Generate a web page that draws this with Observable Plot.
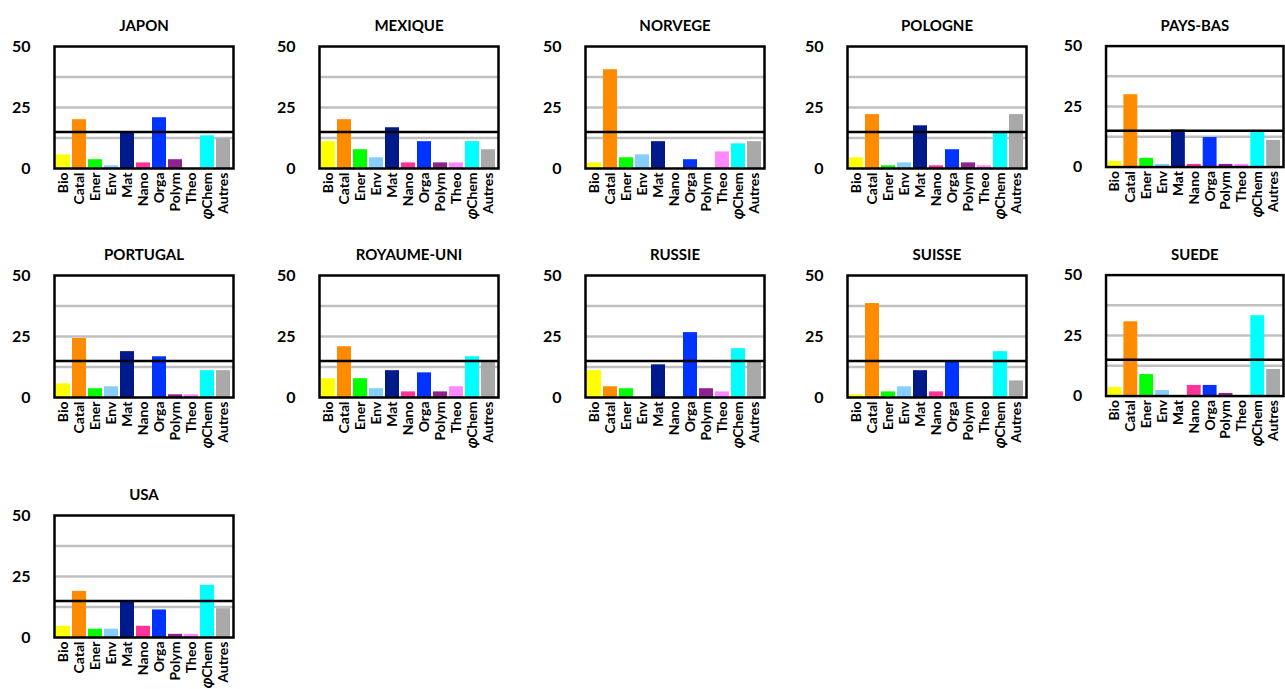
<!DOCTYPE html>
<html>
<head>
<meta charset="utf-8">
<script src="https://cdn.jsdelivr.net/npm/d3@7"></script>
<script src="https://cdn.jsdelivr.net/npm/@observablehq/plot@0.6"></script>
<style>
  html, body { margin: 0; padding: 0; background: #fff; }
  #root { position: relative; width: 1285px; height: 689px; overflow: hidden; font-family: Lato, sans-serif; }
  .panel { position: absolute; }
</style>
</head>
<body>
<div id="root"></div>
<script>
const categories = ["Bio", "Catal", "Ener", "Env", "Mat", "Nano", "Orga", "Polym", "Theo", "\u{1D711}Chem", "Autres"];
const colors = ["#ffff00", "#ff8c00", "#00ff00", "#87cefa", "#001a8c", "#ff3399", "#0033ff", "#8e2390", "#ff88ff", "#00ffff", "#a9a9a9"];
const countries = ["JAPON", "MEXIQUE", "NORVEGE", "POLOGNE", "PAYS-BAS", "PORTUGAL", "ROYAUME-UNI", "RUSSIE", "SUISSE", "SUEDE", "USA"];

const japon      = [5.6, 20.0, 3.6, 1.1, 14.4, 2.3, 20.8, 3.6, 0, 13.4, 12.2];
const mexique    = [11.0, 20.0, 7.7, 4.4, 16.7, 2.3, 11.0, 2.3, 2.3, 11.0, 7.7];
const norvege    = [2.3, 40.5, 4.4, 5.6, 11.0, 0, 3.6, 0, 6.8, 10.1, 11.0];
const pologne    = [4.4, 22.1, 1.1, 2.3, 17.5, 1.1, 7.7, 2.3, 1.1, 14.6, 22.1];
const paysBas    = [2.3, 29.9, 3.6, 1.1, 15.3, 1.1, 12.2, 1.1, 1.1, 14.7, 11.0];
const portugal   = [5.6, 24.2, 3.6, 4.4, 18.8, 0, 16.7, 1.1, 1.1, 11.0, 11.0];
const royaumeUni = [7.7, 20.8, 7.7, 3.6, 11.0, 2.3, 10.1, 2.3, 4.4, 16.7, 15.0];
const russie     = [11.0, 4.4, 3.6, 0, 13.4, 0, 26.6, 3.6, 2.3, 20.0, 15.0];
const suisse     = [1.1, 38.5, 2.3, 4.4, 11.0, 2.3, 14.6, 0, 0, 18.8, 6.8];
const suede      = [3.6, 30.7, 8.9, 2.3, 0, 4.4, 4.4, 1.1, 0, 33.2, 11.0];
const usa        = [4.6, 18.9, 3.4, 3.4, 15.1, 4.6, 11.3, 1.3, 1.3, 21.4, 11.8];
const series = [japon, mexique, norvege, pologne, paysBas, portugal, royaumeUni, russie, suisse, suede, usa];

const yTicks = [0, 25, 50];
const gridValues = [12.5, 25, 37.5];
const referenceValue = 15;

// page layout (panel placement only)
const colLeft = [0, 265, 531, 793, 1052];
const rowTop = [0, 229, 469];

const root = document.getElementById("root");
countries.forEach((country, i) => {
  const values = series[i];
  const data = categories.map((c, j) => ({cat: c, value: values[j]}));
  const chart = Plot.plot({
    width: 235,
    height: 220,
    marginLeft: 54,
    marginRight: 2,
    marginTop: 46,
    marginBottom: 52,
    style: {fontFamily: "Lato, sans-serif", fontWeight: "bold", fontSize: "14px", color: "#000", background: "#fff"},
    x: {domain: categories, padding: 0.1, label: null},
    y: {domain: [0, 50], label: null},
    color: {domain: categories, range: colors},
    marks: [
      Plot.ruleY(gridValues, {stroke: "#c0c0c0", strokeWidth: 2.5}),
      Plot.barY(data, {x: "cat", y: "value", fill: "cat"}),
      Plot.ruleY([referenceValue], {stroke: "#000", strokeWidth: 2.5}),
      Plot.frame({stroke: "#000", strokeWidth: 2.5}),
      Plot.axisY({ticks: yTicks, tickSize: 0, tickPadding: 24, fontSize: 16, label: null}),
      Plot.axisX({tickRotate: -90, tickSize: 0, tickPadding: 4, fontSize: 14, label: null}),
      Plot.text([country], {frameAnchor: "top", dy: -26, fontSize: 15, fontWeight: "bold", text: d => d})
    ]
  });
  const div = document.createElement("div");
  div.className = "panel";
  div.style.left = colLeft[i % 5] + "px";
  div.style.top = rowTop[Math.floor(i / 5)] + "px";
  div.appendChild(chart);
  root.appendChild(div);
});
</script>
</body>
</html>
